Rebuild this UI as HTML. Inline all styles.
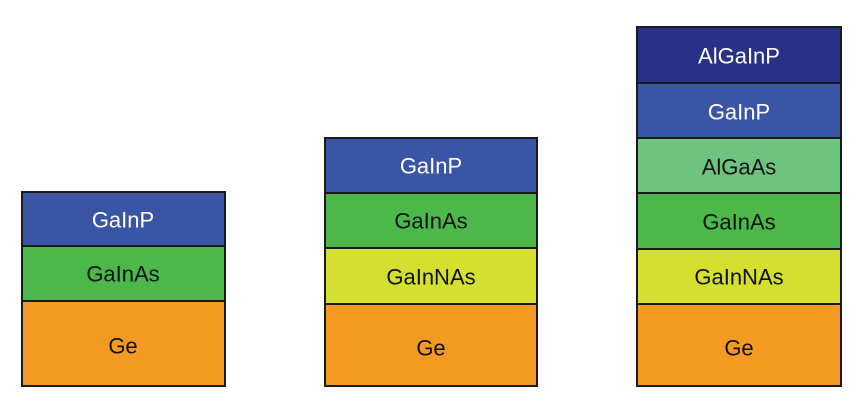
<!DOCTYPE html>
<html><head><meta charset="utf-8"><style>
html,body{margin:0;padding:0;background:#fff;}
svg text{font-family:"Liberation Sans",sans-serif;font-size:22px;text-anchor:middle;dominant-baseline:central;}
</style></head><body>
<svg width="865" height="414" viewBox="0 0 865 414" xmlns="http://www.w3.org/2000/svg">
<g stroke="#1a1a1a" stroke-width="2">
<rect x="22" y="192" width="203" height="54" fill="#3a55a6"/>
<rect x="22" y="246" width="203" height="55" fill="#4cb84a"/>
<rect x="22" y="301" width="203" height="85" fill="#f59a20"/>
<rect x="325" y="138" width="212" height="55" fill="#3a55a6"/>
<rect x="325" y="193" width="212" height="55" fill="#4cb84a"/>
<rect x="325" y="248" width="212" height="56" fill="#d4e030"/>
<rect x="325" y="304" width="212" height="82" fill="#f59a20"/>
<rect x="637" y="27" width="204" height="56" fill="#283188"/>
<rect x="637" y="83" width="204" height="55" fill="#3a55a6"/>
<rect x="637" y="138" width="204" height="55" fill="#6cc47e"/>
<rect x="637" y="193" width="204" height="56" fill="#4cb84a"/>
<rect x="637" y="249" width="204" height="55" fill="#d4e030"/>
<rect x="637" y="304" width="204" height="82" fill="#f59a20"/>
</g>
<g fill="#111">
<text x="123" y="220" fill="#fff">GaInP</text>
<text x="123" y="274">GaInAs</text>
<text x="123" y="346">Ge</text>
<text x="431" y="166" fill="#fff">GaInP</text>
<text x="431" y="221">GaInAs</text>
<text x="431" y="277">GaInNAs</text>
<text x="431" y="348">Ge</text>
<text x="739" y="56" fill="#fff">AlGaInP</text>
<text x="739" y="112" fill="#fff">GaInP</text>
<text x="739" y="167">AlGaAs</text>
<text x="739" y="222">GaInAs</text>
<text x="739" y="277">GaInNAs</text>
<text x="739" y="348">Ge</text>
</g>
</svg>
</body></html>
